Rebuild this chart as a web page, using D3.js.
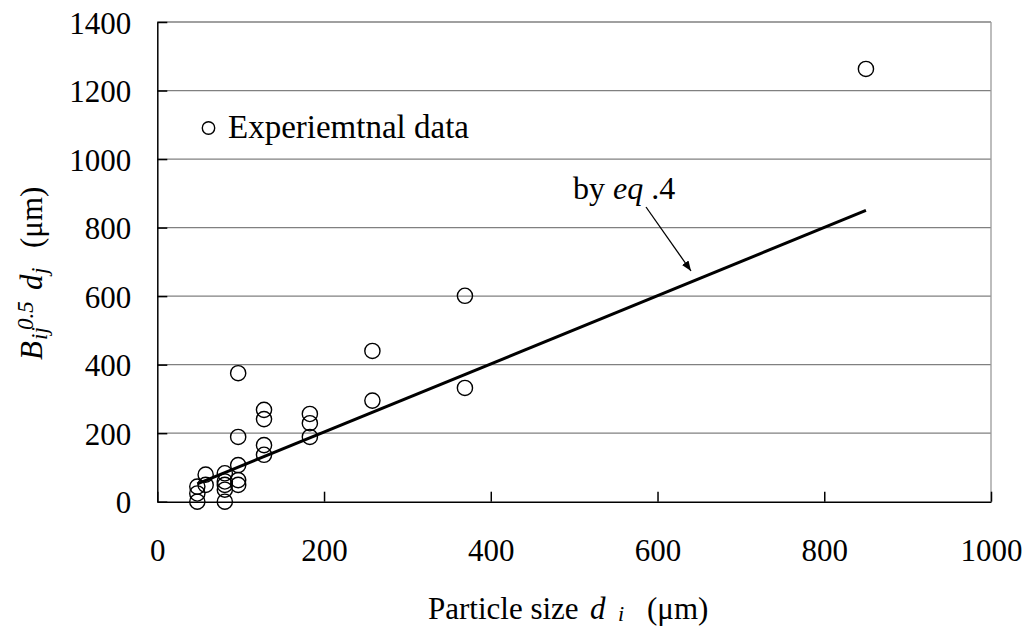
<!DOCTYPE html>
<html><head><meta charset="utf-8">
<script src="https://cdn.jsdelivr.net/npm/d3@7"></script>
</head>
<body style="margin:0;background:#fff">
<svg id="c" width="1028" height="626" style="display:block"></svg>
<script>
// Experimental data: particle size d_i (µm) vs B_ij^0.5 d_j (µm)
const sizeX = [48, 48, 48, 58, 58, 81, 81, 81, 81, 81, 97, 97, 97, 97, 97, 128, 128, 128, 128, 183, 183, 183, 258, 258, 369, 369, 850];
const valueY = [0, 24, 44, 49, 79, 0, 35, 49, 59, 83, 49, 63, 107, 189, 375, 137, 165, 241, 268, 189, 229, 256, 295, 440, 332, 601, 1263];
// Correlation line by eq.4 (end points)
const eqLineX = [48, 850];
const eqLineY = [52, 850];
const xTicks = [0, 200, 400, 600, 800, 1000];
const yTicks = [0, 200, 400, 600, 800, 1000, 1200, 1400];

const FONT = "'Liberation Serif', 'Times New Roman', Tinos, serif";
const svg = d3.select("#c");
const x = d3.scaleLinear().domain([0, 1000]).range([157.3, 991]);
const y = d3.scaleLinear().domain([0, 1400]).range([501.7, 22]);
const FS = 31;

// gridlines
svg.append("g").selectAll("line").data(yTicks.filter(d => d > 0)).join("line")
  .attr("x1", x(0)).attr("x2", x(1000)).attr("y1", d => y(d)).attr("y2", d => y(d))
  .attr("stroke", "#808080").attr("stroke-width", 1.3);
svg.append("line").attr("x1", x(1000)).attr("x2", x(1000)).attr("y1", y(1400)).attr("y2", y(0))
  .attr("stroke", "#9a9a9a").attr("stroke-width", 1.3);

// axes
const ax = svg.append("g").attr("transform", `translate(0,${y(0)})`)
  .call(d3.axisBottom(x).tickValues(xTicks).tickSizeInner(-10).tickSizeOuter(0).tickFormat(d3.format("d")));
ax.selectAll("text").attr("dy", null).attr("y", 59.3);
const ay = svg.append("g").attr("transform", `translate(${x(0)},0)`)
  .call(d3.axisLeft(y).tickValues(yTicks).tickSizeInner(-10).tickSizeOuter(0).tickFormat(d3.format("d")));
ay.selectAll("text").attr("dy", null).attr("x", -26).attr("y", 11);
[ax, ay].forEach(g => g.attr("font-family", null).attr("font-size", null));
svg.selectAll(".domain").attr("stroke", "#000").attr("stroke-width", 1.5);
svg.selectAll(".tick line").attr("stroke", "#000").attr("stroke-width", 1.5);
svg.selectAll(".tick text").attr("fill", "#000");

// line by eq.4
svg.append("path")
  .attr("d", d3.line()(eqLineX.map((v, i) => [x(v), y(eqLineY[i])])))
  .attr("stroke", "#000").attr("stroke-width", 3).attr("fill", "none");

// data points
svg.append("g").selectAll("circle").data(sizeX.map((v, i) => [v, valueY[i]])).join("circle")
  .attr("cx", d => x(d[0])).attr("cy", d => y(d[1])).attr("r", 7.6)
  .attr("fill", "none").attr("stroke", "#000").attr("stroke-width", 1.4);

// apply font to every text as inline style (before custom sizes)
svg.selectAll("text").style("font-family", FONT).style("font-size", FS + "px");

function txt(attrs, size) {
  const t = svg.append("text").style("font-family", FONT).style("font-size", size + "px");
  Object.entries(attrs).forEach(([k, v]) => t.attr(k, v));
  return t;
}
function span(t, s, opt) {
  const sp = t.append("tspan").text(s);
  if (opt.italic) sp.style("font-style", "italic");
  if (opt.size) sp.style("font-size", opt.size + "px");
  if (opt.x != null) sp.attr("x", opt.x);
  if (opt.y != null) sp.attr("y", opt.y);
  return sp;
}

// legend
svg.append("circle").attr("cx", 208.5).attr("cy", 128).attr("r", 6.2)
  .attr("fill", "none").attr("stroke", "#000").attr("stroke-width", 1.4);
txt({x: 228, y: 137.5}, 33).text("Experiemtnal data");

// annotation
const ann = txt({x: 573, y: 199}, 32);
span(ann, "by ", {});
span(ann, "eq", {italic: true});
span(ann, " .4", {});
svg.append("defs").append("marker").attr("id", "ah").attr("viewBox", "0 0 10 10")
  .attr("refX", 10).attr("refY", 5).attr("markerWidth", 10).attr("markerHeight", 10)
  .attr("markerUnits", "userSpaceOnUse").attr("orient", "auto")
  .append("path").attr("d", "M0,1 L10,5 L0,9 Z").attr("fill", "#000");
svg.append("line").attr("x1", 646).attr("y1", 207).attr("x2", 691).attr("y2", 271)
  .attr("stroke", "#000").attr("stroke-width", 1.3).attr("marker-end", "url(#ah)");

// x axis title
const xt = txt({x: 428, y: 619}, 31);
span(xt, "Particle size ", {x: 428, y: 619});
span(xt, "d", {italic: true, x: 590, y: 619});
span(xt, "i", {italic: true, size: 22, x: 618, y: 621});
span(xt, "(μm)", {x: 647, y: 619});

// y axis title (text-space coordinates after rotation)
const yt = txt({transform: "translate(42,360) rotate(-90)"}, 31);
span(yt, "B", {italic: true, x: 0, y: 0});
span(yt, "ij", {italic: true, size: 23, x: 20, y: 5});
span(yt, "0.5", {italic: true, size: 23, x: 30, y: -9});
span(yt, "d", {italic: true, x: 70, y: 0});
span(yt, "j", {italic: true, size: 23, x: 86, y: 5});
span(yt, "(μm)", {x: 112, y: 0});
</script></body></html>
